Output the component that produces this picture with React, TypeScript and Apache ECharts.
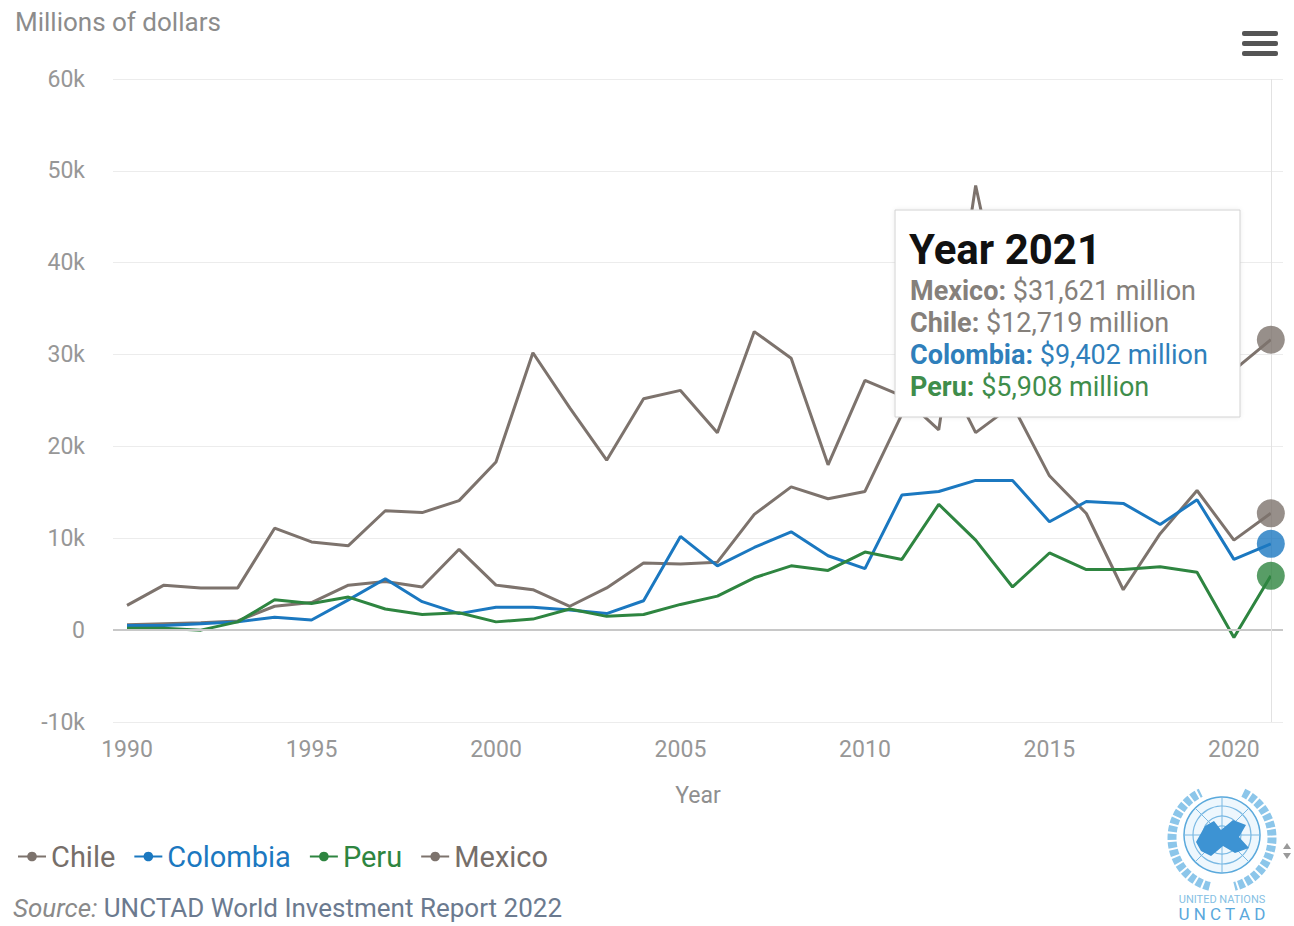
import React, { useEffect, useRef } from "react";
import * as echarts from "echarts";

const years = Array.from({ length: 32 }, (_, i) => 1990 + i);
const chile = [600, 700, 800, 1000, 2600, 3000, 4900, 5300, 4700, 8800, 4900, 4400, 2600, 4600, 7300, 7200, 7400, 12600, 15600, 14300, 15100, 23500, 29500, 21500, 24500, 16800, 12700, 4400, 10500, 15200, 9800, 12719];
const colombia = [500, 500, 700, 900, 1400, 1100, 3300, 5600, 3100, 1800, 2500, 2500, 2200, 1800, 3200, 10200, 7000, 9000, 10700, 8100, 6700, 14700, 15100, 16300, 16300, 11800, 14000, 13800, 11500, 14200, 7700, 9402];
const peru = [200, 200, 0, 900, 3300, 2900, 3600, 2300, 1700, 1900, 900, 1200, 2300, 1500, 1700, 2800, 3700, 5700, 7000, 6500, 8500, 7700, 13700, 9800, 4700, 8400, 6600, 6600, 6900, 6300, -800, 5908];
const mexico = [2700, 4900, 4600, 4600, 11100, 9600, 9200, 13000, 12800, 14100, 18300, 30200, 24200, 18500, 25200, 26100, 21500, 32500, 29600, 18000, 27200, 25500, 21800, 48400, 29800, 35900, 39300, 34100, 34100, 34600, 28300, 31621];
const xTickLabels = [1990, 1995, 2000, 2005, 2010, 2015, 2020];
const seriesNames = ["Chile", "Colombia", "Peru", "Mexico"];
const seriesValues = [chile, colombia, peru, mexico];
const colors = ["#7d736d", "#1b78c0", "#2e8540", "#7d736d"];
const legendTextColors = ["#766e69", "#1b78c0", "#2e8540", "#766e69"];
const tooltipOrder = ["Mexico", "Chile", "Colombia", "Peru"];
const tooltipLabelColors: Record<string, string> = {
  Mexico: "#85807b",
  Chile: "#85807b",
  Colombia: "#2f7fbb",
  Peru: "#3f8d4b",
};

const FONT = "Roboto";

export default function App() {
  const ref = useRef<HTMLDivElement>(null);
  useEffect(() => {
    if (!ref.current) return;
    const chart = echarts.init(ref.current, undefined, { renderer: "svg" });
    const lastIdx = years.length - 1;
    const lastYear = years[lastIdx];

    const lineSeries: any[] = seriesNames.map((name, i) => ({
      name,
      type: "line",
      data: years.map((y, j) => [y, seriesValues[i][j]]),
      symbol: "circle",
      symbolSize: 10,
      showSymbol: false,
      lineStyle: { color: colors[i], width: 3 },
      itemStyle: { color: colors[i] },
      z: 3,
    }));
    lineSeries[0].markLine = {
      silent: true,
      symbol: "none",
      label: { show: false },
      data: [
        { yAxis: 0, lineStyle: { color: "#c8c8c8", width: 2, type: "solid" } },
        { xAxis: lastYear, lineStyle: { color: "#e2e2e2", width: 1, type: "solid" } },
      ],
    };
    const dotSeries = seriesNames.map((name, i) => ({
      type: "scatter",
      data: [[lastYear, seriesValues[i][lastIdx]]],
      symbol: "circle",
      symbolSize: 28,
      itemStyle: { color: colors[i] },
      z: 5,
      silent: true,
    }));

    const tipLines = tooltipOrder.map((name, k) => {
      const idx = seriesNames.indexOf(name);
      const v = seriesValues[idx][lastIdx];
      return {
        type: "text",
        x: 910,
        y: 291 + k * 32,
        style: {
          text: `{b|${name}: }{v|$${v.toLocaleString("en-US")} million}`,
          verticalAlign: "middle",
          rich: {
            b: { fontFamily: FONT, fontSize: 27, fontWeight: "bold", fill: tooltipLabelColors[name] },
            v: { fontFamily: FONT, fontSize: 27, fill: tooltipLabelColors[name] },
          },
        },
        z: 101,
      };
    });

    const option: any = {
      animation: false,
      backgroundColor: "#ffffff",
      textStyle: { fontFamily: FONT },
      grid: { left: 113, right: 11, top: 79, bottom: 204 },
      xAxis: {
        type: "value",
        min: 1989.62,
        max: 2021.33,
        name: "Year",
        nameLocation: "middle",
        nameGap: 62,
        nameTextStyle: { color: "#8f8f8f", fontSize: 23, fontFamily: FONT },
        axisLine: { show: false },
        axisTick: { show: false },
        splitLine: { show: false },
        axisLabel: {
          customValues: xTickLabels,
          formatter: (v: number) => String(v),
          color: "#979797",
          fontSize: 23,
          fontFamily: FONT,
          margin: 16,
        },
      },
      yAxis: {
        type: "value",
        min: -10000,
        max: 60000,
        interval: 10000,
        axisLine: { show: false },
        axisTick: { show: false },
        splitLine: { lineStyle: { color: "#ececec", width: 1 } },
        axisLabel: {
          formatter: (v: number) => (v === 0 ? "0" : v / 1000 + "k"),
          color: "#979797",
          fontSize: 23,
          fontFamily: FONT,
          margin: 28,
        },
      },
      legend: {
        left: 12,
        top: 837,
        itemWidth: 28,
        itemHeight: 12,
        itemGap: 18,
        data: seriesNames.map((n, i) => ({
          name: n,
          textStyle: { color: legendTextColors[i], fontSize: 29, fontFamily: FONT },
        })),
      },
      series: [...lineSeries, ...dotSeries],
      graphic: [
        {
          type: "text",
          x: 15,
          y: 22,
          style: { text: "Millions of dollars", fontFamily: FONT, fontSize: 26, fill: "#8c8c8c", verticalAlign: "middle" },
        },
        // menu icon
        { type: "rect", shape: { x: 1242, y: 31, width: 36, height: 5, r: 2 }, style: { fill: "#555" } },
        { type: "rect", shape: { x: 1242, y: 41, width: 36, height: 5, r: 2 }, style: { fill: "#555" } },
        { type: "rect", shape: { x: 1242, y: 51, width: 36, height: 5, r: 2 }, style: { fill: "#555" } },
        // tooltip box
        {
          type: "rect",
          shape: { x: 895, y: 210, width: 345, height: 207 },
          style: { fill: "#ffffff", stroke: "#d2d2d2", lineWidth: 1, shadowBlur: 4, shadowColor: "rgba(0,0,0,0.08)" },
          z: 100,
        },
        {
          type: "text",
          x: 909,
          y: 249,
          style: { text: `Year ${lastYear}`, fontFamily: FONT, fontSize: 42, fontWeight: "bold", fill: "#111111", verticalAlign: "middle" },
          z: 101,
        },
        ...tipLines,
        // source
        {
          type: "text",
          x: 13,
          y: 908,
          style: {
            text: "{i|Source: }{n|UNCTAD World Investment Report 2022}",
            verticalAlign: "middle",
            rich: {
              i: { fontFamily: FONT, fontSize: 26, fontStyle: "italic", fill: "#8a8a8a" },
              n: { fontFamily: FONT, fontSize: 26, fill: "#6b7a8f" },
            },
          },
        },
        // UN logo
        {
          type: "group",
          children: [
            { type: "arc", shape: { cx: 1222, cy: 838, r: 50, startAngle: Math.PI * 0.58, endAngle: Math.PI * 1.36 }, style: { stroke: "#8cc6ea", lineWidth: 9, fill: "none", lineDash: [6, 2] } },
            { type: "arc", shape: { cx: 1222, cy: 838, r: 50, startAngle: -Math.PI * 0.36, endAngle: Math.PI * 0.42 }, style: { stroke: "#8cc6ea", lineWidth: 9, fill: "none", lineDash: [6, 2] } },
            { type: "circle", shape: { cx: 1222, cy: 835, r: 38 }, style: { fill: "#eef7fd", stroke: "#5aa9dc", lineWidth: 1.5 } },
            { type: "circle", shape: { cx: 1222, cy: 835, r: 29 }, style: { fill: "none", stroke: "#7ab9e3", lineWidth: 1.2 } },
            { type: "circle", shape: { cx: 1222, cy: 835, r: 19 }, style: { fill: "none", stroke: "#7ab9e3", lineWidth: 1.2 } },
            { type: "circle", shape: { cx: 1222, cy: 835, r: 9 }, style: { fill: "none", stroke: "#7ab9e3", lineWidth: 1.2 } },
            { type: "line", shape: { x1: 1184, y1: 835, x2: 1260, y2: 835 }, style: { stroke: "#7ab9e3", lineWidth: 1 } },
            { type: "line", shape: { x1: 1222, y1: 797, x2: 1222, y2: 873 }, style: { stroke: "#7ab9e3", lineWidth: 1 } },
            { type: "line", shape: { x1: 1195, y1: 808, x2: 1249, y2: 862 }, style: { stroke: "#7ab9e3", lineWidth: 1 } },
            { type: "line", shape: { x1: 1249, y1: 808, x2: 1195, y2: 862 }, style: { stroke: "#7ab9e3", lineWidth: 1 } },
            { type: "polygon", shape: { points: [[1196, 842], [1205, 826], [1214, 821], [1221, 830], [1233, 820], [1246, 825], [1239, 837], [1249, 848], [1235, 853], [1223, 846], [1211, 856], [1201, 851]] }, style: { fill: "#3d93d3" } },
            { type: "text", x: 1222, y: 899, style: { text: "UNITED NATIONS", fontFamily: FONT, fontSize: 11, fill: "#86bfe4", align: "center", verticalAlign: "middle" } },
            { type: "text", x: 1222, y: 914, style: { text: "U N C T A D", fontFamily: FONT, fontSize: 17, fill: "#5aa8dc", align: "center", verticalAlign: "middle" } },
            { type: "polygon", shape: { points: [[1283, 849], [1291, 849], [1287, 843]] }, style: { fill: "#9a9a9a" } },
            { type: "polygon", shape: { points: [[1283, 853], [1291, 853], [1287, 859]] }, style: { fill: "#9a9a9a" } },
          ],
        },
      ],
    };
    chart.setOption(option);
    return () => chart.dispose();
  }, []);
  return (
    <div
      ref={ref}
      style={{ position: "fixed", left: 0, top: 0, width: 1294, height: 926, background: "#fff" }}
    />
  );
}
